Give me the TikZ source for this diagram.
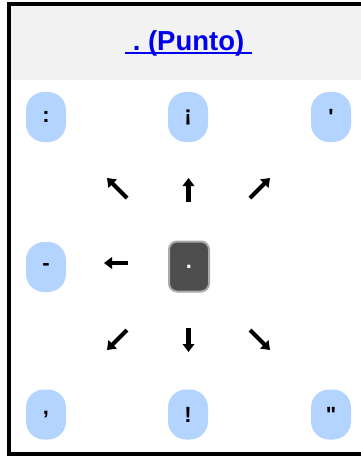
\documentclass[tikz,border=0pt]{standalone}
\usepackage{fontspec}
\setmainfont{Liberation Sans}[Ligatures=TeXOff]
\usetikzlibrary{arrows.meta}
\definecolor{keyblue}{RGB}{179,212,255}
\definecolor{keydark}{RGB}{77,77,77}
\definecolor{keyrim}{RGB}{170,170,170}
\definecolor{headgray}{RGB}{242,242,242}
\definecolor{linkblue}{RGB}{0,0,238}
\tikzset{
  keybox/.style={fill=keyblue, rounded corners=18pt, minimum width=40pt, minimum height=50pt, inner sep=0pt, font=\bfseries\fontsize{22}{22}\selectfont},
  keycenter/.style={fill=keydark, draw=keyrim, line width=2pt, rounded corners=8pt, minimum width=40pt, minimum height=50pt, inner sep=0pt, text=white, font=\bfseries\fontsize{22}{22}\selectfont},
  dirarrow/.style={line width=4.2pt, -{Triangle[width=11.5pt,length=8pt]}},
}
\begin{document}
\begin{tikzpicture}[x=1pt,y=-1pt]
\useasboundingbox (0,0) rectangle (361,456);
\clip (0,0) rectangle (361,456);
\fill[white] (0,0) rectangle (361,456);
\fill[headgray] (11,6) rectangle (361,80);
\draw[line width=4pt] (9,4) rectangle (375,454);
% title
\node[anchor=base, inner sep=0pt, text=linkblue, font=\bfseries\fontsize{27.5}{27.5}\selectfont] (title) at (188.5,50) {\ .\ (Punto)\ \null};
\draw[linkblue, line width=2pt] ([yshift=-2.5pt]title.base west) -- ([yshift=-2.5pt]title.base east);
% keys
\node[keybox] (colon) at (46,117) {:};
\node[keybox] (iexcl) at (188,117) {¡};
\node[keybox] (apos) at (331,117) {'};
\node[keybox] (dash) at (46,267) {-};
\node[keycenter] (dot) at (189,266.5) {.};
\node[keybox] (comma) at (46,414.5) {,};
\node[keybox] (excl) at (188,414.5) {!};
\node[keybox] (quot) at (331,414.5) {"};
% direction arrows
\coordinate (ulA) at (127,198); \coordinate (ulB) at (107,178);
\coordinate (uA) at (188.5,202); \coordinate (uB) at (188.5,178);
\coordinate (urA) at (250,198); \coordinate (urB) at (270,178);
\coordinate (lA) at (128,263); \coordinate (lB) at (104,263);
\coordinate (dlA) at (127,330); \coordinate (dlB) at (107,350);
\coordinate (dA) at (188.5,328); \coordinate (dB) at (188.5,352);
\coordinate (drA) at (250,330); \coordinate (drB) at (270,350);
\draw[dirarrow] (ulA) -- (ulB);
\draw[dirarrow] (uA) -- (uB);
\draw[dirarrow] (urA) -- (urB);
\draw[dirarrow] (lA) -- (lB);
\draw[dirarrow] (dlA) -- (dlB);
\draw[dirarrow] (dA) -- (dB);
\draw[dirarrow] (drA) -- (drB);
\end{tikzpicture}
\end{document}
